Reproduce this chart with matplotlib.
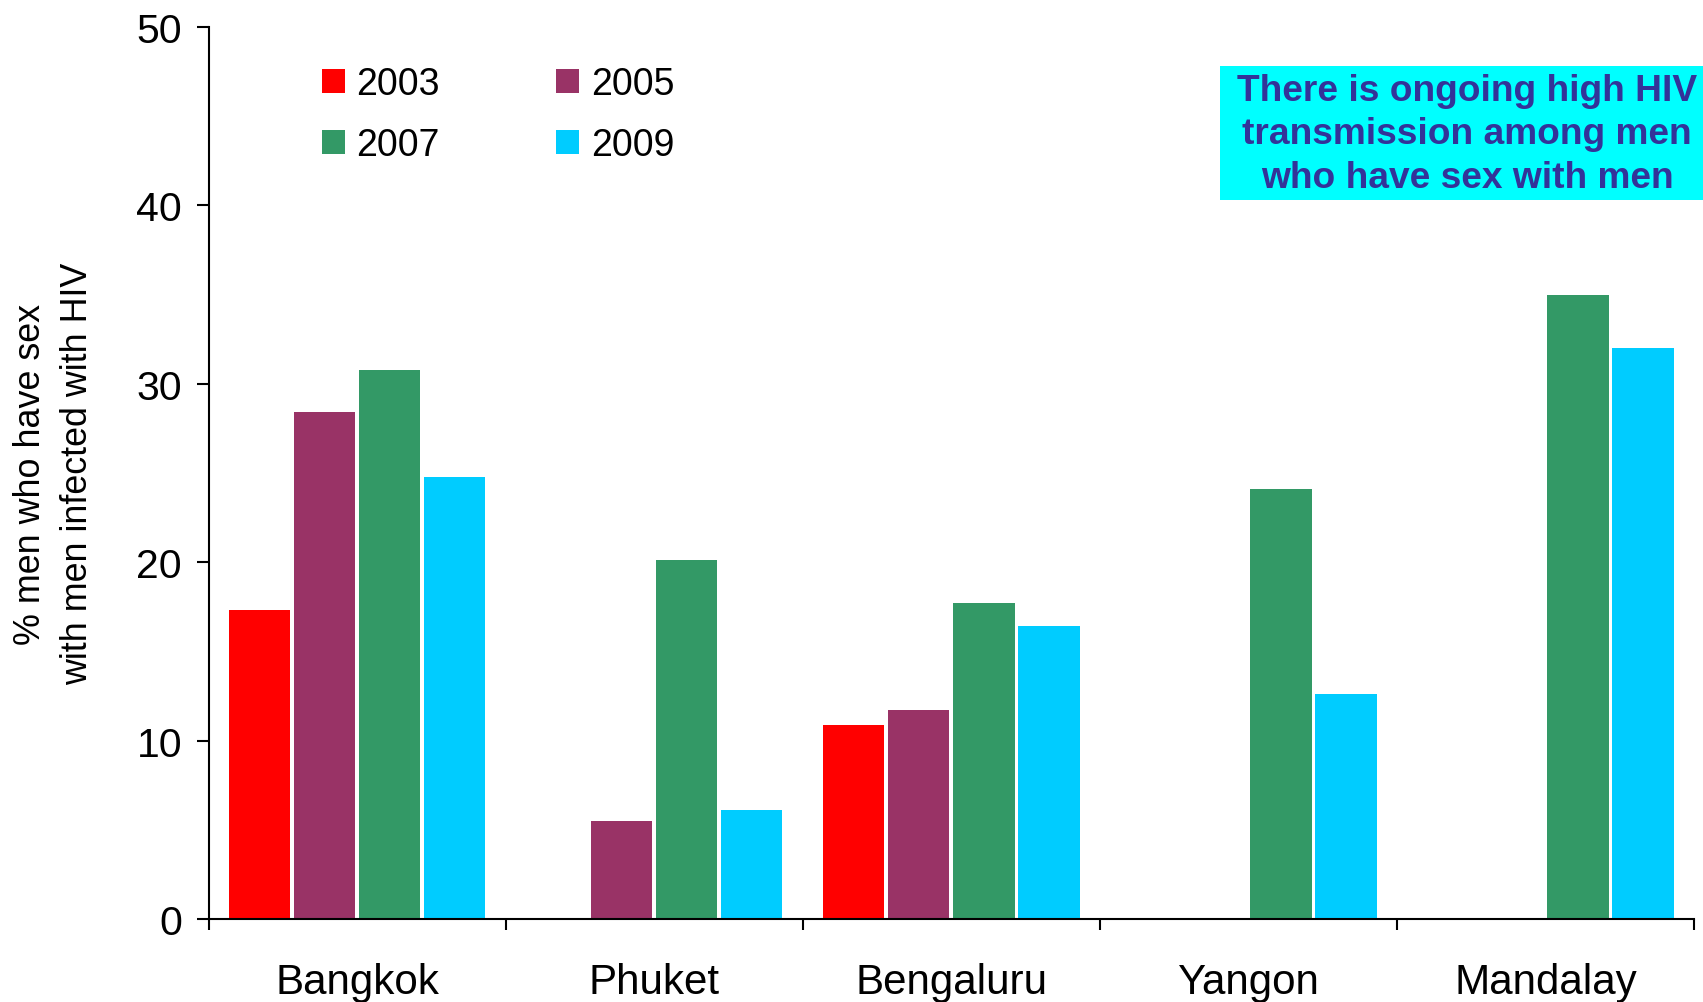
import matplotlib
matplotlib.use("Agg")
import matplotlib.pyplot as plt
from matplotlib.patches import Rectangle
import numpy as np

plt.rcParams['font.family'] = ['Liberation Sans', 'DejaVu Sans']

cities = ["Bangkok", "Phuket", "Bengaluru", "Yangon", "Mandalay"]
years = ["2003", "2005", "2007", "2009"]
colors = ["#FF0000", "#993366", "#339966", "#00CCFF"]
v2003 = [17.3, np.nan, 10.9, np.nan, np.nan]
v2005 = [28.4, 5.5, 11.7, np.nan, np.nan]
v2007 = [30.8, 20.1, 17.7, 24.1, 35.0]
v2009 = [24.8, 6.1, 16.4, 12.6, 32.0]
series = [v2003, v2005, v2007, v2009]
yticks = [0, 10, 20, 30, 40, 50]

fig = plt.figure(figsize=(17.03, 10.03), dpi=100)
ax = fig.add_axes([208.5/1703, 83/1003, (1694-208.5)/1703, (920-28)/1003])

x = np.arange(len(cities))
step = 0.219
width = 0.207
handles = []
for i, (vals, col, yr) in enumerate(zip(series, colors, years)):
    h = ax.bar(x + (i - 1.5) * step, vals, width=width, color=col, label=yr, zorder=2)
    handles.append(h)

ax.set_xlim(-0.5, len(cities) - 0.5)
ax.set_ylim(0, 50)
ax.set_yticks(yticks)
ax.set_yticklabels([str(t) for t in yticks], fontsize=29.5)
ax.tick_params(axis='y', direction='out', length=9, width=1.5, pad=10)

ax.set_xticks(np.arange(len(cities) + 1) - 0.5)
ax.set_xticklabels([])
ax.set_xticks(x, minor=True)
ax.set_xticklabels(cities, minor=True, fontsize=30.3)
ax.tick_params(axis='x', which='major', direction='out', length=8, width=1.5)
ax.tick_params(axis='x', which='minor', length=0, pad=31)

for s in ['top', 'right']:
    ax.spines[s].set_visible(False)
for s in ['left', 'bottom']:
    ax.spines[s].set_linewidth(1.5)

ax.set_ylabel("% men who have sex\nwith men infected with HIV", fontsize=25.8,
              linespacing=1.45)
ax.yaxis.set_label_coords((54 - 208.5) / (1694 - 208.5), 0.5)
ax.yaxis.label.set_va('center')

leg = ax.legend([handles[0], handles[2], handles[1], handles[3]],
                ["2003", "2007", "2005", "2009"], ncol=2, frameon=False,
                fontsize=27, handlelength=0.6, handleheight=0.6, handletextpad=0.32,
                columnspacing=3.1, labelspacing=0.68, borderpad=0, borderaxespad=0,
                loc='upper left',
                bbox_to_anchor=((322 - 208.5) / (1694 - 208.5), (920 - 67) / 892))

fig.patches.append(Rectangle((1220/1703, 1 - 201/1003), (1703-1220)/1703, 134/1003,
                             transform=fig.transFigure, facecolor='#00FFFF',
                             edgecolor='none', zorder=1))
fig.text(1467/1703, 1 - 135/1003,
         "There is ongoing high HIV\ntransmission among men\nwho have sex with men",
         ha='center', va='center', multialignment='center', fontsize=26.7,
         fontweight='bold', color='#333399', linespacing=1.3, zorder=3)

fig.savefig("out.png", dpi=100)
